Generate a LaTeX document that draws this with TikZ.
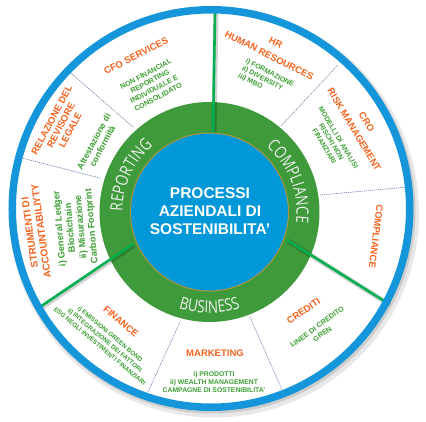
\documentclass[tikz,border=0pt]{standalone}
\usepackage{fontspec}
\setmainfont{Liberation Sans}
\newfontfamily\ringfam{Open Sans}[FakeStretch=0.8]
\usetikzlibrary{decorations.text}

\definecolor{rimblue}{RGB}{22,150,218}
\definecolor{hubblue}{RGB}{0,152,216}
\definecolor{ringgreen}{RGB}{62,154,58}
\definecolor{divgreen}{RGB}{0,176,80}
\definecolor{goldline}{RGB}{176,148,60}
\definecolor{thinblue}{RGB}{120,130,180}
\definecolor{ttlorange}{RGB}{245,100,30}
\definecolor{subgreen}{RGB}{60,160,50}
\definecolor{ringtext}{RGB}{236,240,236}

\tikzset{
  ttl/.style={text=ttlorange, font=\bfseries\fontsize{9.5}{10.5}\selectfont, align=center, inner sep=0pt},
  sub/.style={text=subgreen, font=\bfseries\fontsize{7}{8.2}\selectfont, align=center, inner sep=0pt},
  bigdiv/.style={divgreen, line width=2.6pt},
  divshadow/.style={black, opacity=0.18, line width=5pt},
  thindiv/.style={thinblue, line width=0.6pt, dash pattern=on 1.2pt off 0.8pt},
}

\begin{document}
\begin{tikzpicture}[x=1pt, y=1pt]
\useasboundingbox (-210,-211) rectangle (216,210);
\coordinate (rim) at (1,1.5);
\coordinate (hub) at (-0.5,-2);

\fill[gray!18] ([shift={(3,-4)}]rim) circle (205);
\fill[gray!40] ([shift={(1.5,-2)}]rim) circle (203);
\fill[white] (rim) circle (200);
\fill[ringgreen] (hub) circle (110);

\draw[thindiv] (-77,83) -- (-145,142);
\draw[thindiv] (-110,32) -- (-192,53);
\draw[thindiv] (71,84) -- (128,145);
\draw[thindiv] (110,15) -- (198,23);
\draw[thindiv] (40,-107) -- (73,-182);
\draw[thindiv] (-30,-112) -- (-62,-182);

\coordinate (t1) at (3,77);
\coordinate (t2) at (5,197);
\coordinate (l1) at (-77,-34);
\coordinate (l2) at (-173,-99);
\coordinate (r1) at (77,-30);
\coordinate (r2) at (179,-94);
\foreach \a/\b in {t1/t2, l1/l2, r1/r2} {
  \draw[divshadow] ([shift={(1,-1)}]\a) -- ([shift={(1,-1)}]\b);
  \draw[bigdiv] (\a) -- (\b);
}

\draw[rimblue, line width=7.5pt] (rim) circle (198.75);
\draw[goldline, line width=1pt, fill=hubblue] (hub) circle (79);

\path[decorate, decoration={text along path, text color=ringtext, text align=center,
  text={|\ringfam\fontsize{17}{17}\selectfont|REPORTING}}]
  ([shift={(205:87)}]hub) arc[start angle=205, end angle=105, radius=87];
\path[decorate, decoration={text along path, text color=ringtext, text align=center,
  text={|\ringfam\fontsize{17}{17}\selectfont|COMPLIANCE}}]
  ([shift={(71:87)}]hub) arc[start angle=71, end angle=-29, radius=87];
\path[decorate, decoration={text along path, text color=ringtext, text align=center,
  text={|\ringfam\fontsize{17}{17}\selectfont|BUSINESS}}]
  ([shift={(-140:101)}]hub) arc[start angle=-140, end angle=-40, radius=101];

\node[text=white, font=\bfseries\fontsize{15.5}{18.3}\selectfont, align=center] (core) at (0,-1)
  {PROCESSI\\AZIENDALI DI\\SOSTENIBILITA’};

\node[ttl, rotate=27] (cfo) at (-74,154) {CFO SERVICES};
\node[sub, rotate=28, font=\bfseries\fontsize{7.2}{8.7}\selectfont] (cfotxt) at (-58,124.5)
  {NON FINANCIAL\\REPORTING\\INDIVIDUALE E\\CONSOLIDATO};
\node[ttl, rotate=-27] (hr) at (62.5,161) {HR\\[4pt]HUMAN RESOURCES};
\node[sub, rotate=-27, align=left] (hrtxt) at (56,129.5) {i) FORMAZIONE\\ii) DIVERSITY\\iii) MBO};
\node[ttl, rotate=-59] (cro) at (150.5,84) {CRO\\[4pt]RISK MANAGEMENT};
\node[sub, rotate=-59] (crotxt) at (121.5,68) {MODELLI DI ANALISI\\RISCHI NON\\FINANZIARI};
\node[ttl, rotate=-97] (compl) at (166,-26.5) {COMPLIANCE};
\node[ttl, rotate=34] (cred) at (93.5,-101) {CREDITI};
\node[sub, rotate=36, font=\bfseries\fontsize{7.2}{9}\selectfont] (credtxt) at (109.75,-120.5)
  {LINEE DI CREDITO\\GREN};
\node[ttl] (mkt) at (5,-143) {MARKETING};
\node[sub, font=\bfseries\fontsize{6.8}{8}\selectfont] (mkttxt) at (4,-172)
  {i) PRODOTTI\\ii) WEALTH MANAGEMENT\\CAMPAGNE DI SOSTENIBILITA’};
\node[ttl, rotate=-40] (fin) at (-89,-111.5) {FINANCE};
\node[sub, rotate=-40, font=\bfseries\fontsize{6.3}{8}\selectfont] (fintxt) at (-105,-130)
  {i) EMISSIONI GREEN BOND\\ii) INTEGRAZIONE DEI FATTORI\\ESG NEGLI INVESTIMENTI FINANZIARI};
\node[ttl, rotate=62] (rev) at (-149,85) {RELAZIONE DEL\\REVISORE\\LEGALE};
\node[sub, rotate=62, font=\bfseries\fontsize{8.7}{9.8}\selectfont] (revtxt) at (-112,66)
  {Attestazione di\\conformità};
\node[ttl, rotate=98, font=\bfseries\fontsize{10}{11.5}\selectfont] (strum) at (-174.5,-22)
  {STRUMENTI DI\\ACCOUNTABILIYTY};
\node[sub, rotate=95, font=\bfseries\fontsize{9.2}{10.7}\selectfont] (strumtxt) at (-134,-17.5)
  {i) General Ledger\\Blockchain\\ii) Misurazione\\Carbon Footprint};
\end{tikzpicture}
\end{document}
